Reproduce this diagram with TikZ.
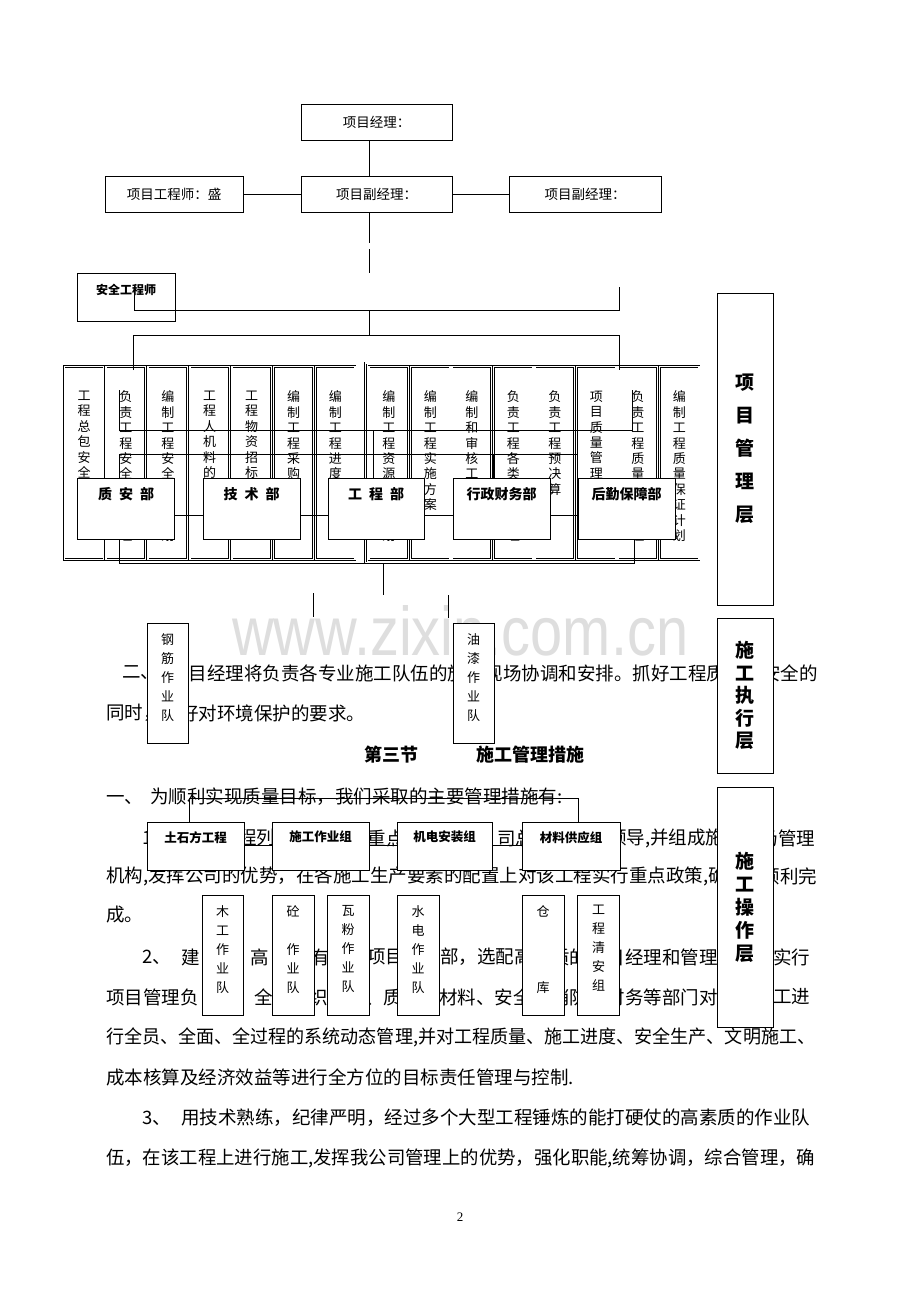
\documentclass[tikz,border=0pt]{standalone}
\usepackage{fontspec}
\usepackage{graphicx}
\setmainfont{Noto Sans CJK SC}
\newfontfamily\wmfont{Liberation Sans}
\newfontfamily\numfont{Liberation Serif}
\makeatletter
% one character per line
\def\vt#1{\expandafter\vt@a#1\@nil}
\def\vt@a#1#2\@nil{#1\ifx\relax#2\relax\expandafter\@gobble\else\expandafter\@firstofone\fi{\\\vt@a#2\@nil}}
\makeatother
\begin{document}
\begin{tikzpicture}[x=1pt,y=-1pt,
  line_style/.style={draw=black,line width=1pt},
  top_style/.style={draw=black,fill=white,line width=1pt,minimum height=36pt,inner sep=0pt,font=\fontsize{13.5}{16}\selectfont},
  safe_style/.style={draw=black,fill=white,line width=1pt,minimum width=98pt,minimum height=48pt,inner sep=0pt},
  safe_label/.style={anchor=north,yshift=-11pt,inner sep=0pt,font=\bfseries\fontsize{12}{14}\selectfont},
  dept_style/.style={draw=black,fill=white,line width=1pt,minimum width=97pt,minimum height=61pt,inner sep=0pt},
  dept_label/.style={anchor=north,yshift=-10pt,inner sep=0pt,font=\bfseries\fontsize{14}{16}\selectfont},
  row_style/.style={draw=black,fill=white,line width=1pt,minimum width=97pt,minimum height=48pt,inner sep=0pt},
  row_label/.style={anchor=north,yshift=-9.5pt,inner sep=0pt,font=\bfseries\fontsize{12.5}{14}\selectfont},
  col_style/.style={draw=black,double=white,double distance=1.4pt,line width=0.5pt,fill=white,minimum width=39.5pt,minimum height=193pt,inner sep=0pt},
  col_label/.style={anchor=north,yshift=-24.5pt,inner sep=0pt,align=center,font=\fontsize{13}{15.4}\selectfont},
  frame_style/.style={draw=black,double=white,double distance=1.4pt,line width=0.5pt},
  team_style/.style={draw=black,fill=white,line width=1pt,minimum width=41pt,minimum height=120pt,inner sep=0pt},
  team_label/.style={anchor=north,yshift=-10.5pt,inner sep=0pt,align=center,font=\fontsize{13}{19}\selectfont},
  layer_style/.style={draw=black,fill=white,line width=1pt,minimum width=56pt,inner sep=0pt,align=center},
  body_style/.style={anchor=west,inner sep=0pt,font=\fontsize{18.5}{22}\selectfont},
  head_style/.style={anchor=west,inner sep=0pt,font=\bfseries\fontsize{18}{22}\selectfont}]

\fill[white] (0,0) rectangle (920,1302);
\useasboundingbox (0,0) rectangle (920,1302);

% watermark
\node[anchor=base west,inner sep=0pt,text=black!13,font=\wmfont] (wm) at (232,655) {\resizebox{456pt}{50pt}{www.zixin.com.cn}};

% body text, the runs that are not covered by the boxes
\node[body_style] (t1a) at (122,673) {二、};
\node[body_style] (t1b) at (188.5,673) {目经理将负责各专业施工队伍的施};
\node[body_style] (t1c) at (484.5,673) {现场协调和安排。抓好工程质};
\node[body_style] (t1d) at (762,673) {安全的};
\node[body_style] (t2a) at (106,713) {同时，};
\node[body_style] (t2b) at (180,713) {好对环境保护的要求。};
\node[head_style] (h1) at (364,755) {第三节};
\node[head_style] (h2) at (476,755) {施工管理措施};
\node[body_style] (t4) at (106,797) {一、\hspace{7pt}为顺利实现质量目标，我们采取的主要管理措施有:};
\node[body_style] (t5a) at (142,838) {1};
\node[body_style] (t5b) at (238,838) {程列};
\node[body_style] (t5c) at (367.5,838) {重点};
\node[body_style] (t5d) at (497,838) {司总};
\node[body_style] (t5e) at (608,838) {领导,并组成施};
\node[body_style] (t5f) at (759.5,838) {场管理};
\node[body_style] (t6a) at (106,876) {机构,发挥公司的优势，在各施工生产要素的配置上对该工程实行重点政策,确};
\node[body_style] (t6b) at (761.5,876) {顺利完};
\node[body_style] (t7) at (106,915) {成。};
\node[body_style] (t8a) at (142,957) {2、};
\node[body_style] (t8b) at (181,957) {建};
\node[body_style] (t8c) at (250,957) {高};
\node[body_style] (t8d) at (311,957) {有};
\node[body_style] (t8e) at (367,957) {项目};
\node[body_style] (t8f) at (440,957) {部，选配高};
\node[body_style] (t8g) at (551,957) {质的};
\node[body_style] (t8h) at (606.5,957) {目经理和管理};
\node[body_style] (t8i) at (773,957) {实行};
\node[body_style] (t9a) at (106,997) {项目管理负};
\node[body_style] (t9b) at (254,997) {全};
\node[body_style] (t9c) at (309.5,997) {织};
\node[body_style] (t9d) at (365,997) {、质};
\node[body_style] (t9e) at (439,997) {材料、安全};
\node[body_style] (t9f) at (551,997) {消防};
\node[body_style] (t9g) at (606.5,997) {财务等部门对};
\node[body_style] (t9h) at (773,997) {工进};
\node[body_style] (t10) at (106,1037) {\resizebox{709pt}{\height}{行全员、全面、全过程的系统动态管理,并对工程质量、施工进度、安全生产、文明施工、}};
\node[body_style] (t11) at (106,1077) {成本核算及经济效益等进行全方位的目标责任管理与控制.};
\node[body_style] (t12) at (142,1118) {3、\hspace{10.5pt}用技术熟练，纪律严明，经过多个大型工程锤炼的能打硬仗的高素质的作业队};
\node[body_style] (t13) at (106,1158) {\resizebox{709pt}{\height}{伍，在该工程上进行施工,发挥我公司管理上的优势，强化职能,统筹协调，综合管理，确}};
\node[font=\numfont\fontsize{13}{15}\selectfont] (pg) at (460,1217) {2};

% top of the chart
\node[top_style,minimum width=151pt] (pm) at (376.5,122) {项目经理：};
\node[top_style,minimum width=151pt] (dpm1) at (376.5,194) {项目副经理：};
\node[top_style,minimum width=152pt] (dpm2) at (585,194) {项目副经理：};
\node[top_style,minimum width=138pt] (eng) at (174,194) {项目工程师：盛\hspace{19pt}};
\node[safe_style,label={[safe_label]north:安全工程师}] (safe) at (126,297) {};

% duty columns
\draw[frame_style] (61,363) rectangle (359,563);
\draw[frame_style] (365.5,363) rectangle (702,563);
\foreach \i/\txt in {0/工程总包安全~~~理,1/负责工程安全~~~理,2/编制工程安全~~~划,
    3/工程人机料的~~~配,4/工程物资招标,5/编制工程采购,6/编制工程进度}
  \node[col_style,label={[col_label]north:\vt{\txt}}] (cl\i) at ({84+41.9*\i},463) {};
\foreach \i/\txt in {0/编制工程资源~~~划,1/编制工程实施方案,2/编制和审核工,
    3/负责工程各类~~~理,4/负责工程预决算,5/项目质量管理~~~目,6/负责工程质量~~~理,7/编制工程质量保证计划}
  \node[col_style,label={[col_label]north:\vt{\txt}}] (cr\i) at ({388.75+41.5*\i},463) {};

% junction points
\coordinate (ja) at (369,243);
\coordinate (jb) at (369,249);
\coordinate (jc) at (369,273);
\coordinate (hm) at (369,310);
\coordinate (bm) at (369,335);

% connectors
\draw[line_style] (369,0 |- pm.south) -- (369,0 |- dpm1.north);
\draw[line_style] (eng.east) -- (dpm1.west);
\draw[line_style] (dpm1.east) -- (dpm2.west);
\draw[line_style] (369,0 |- dpm1.south) -- (ja);
\draw[line_style] (jb) -- (jc);
\draw[line_style] (134,293) -- (134,310) -- (619,310) -- (619,287);
\draw[line_style] (hm) -- (bm);
\draw[line_style] (133,370) -- (133,335) -- (619,335) -- (619,370);
\draw[line_style] (119,390) -- (119,430) -- (632,430) -- (632,390);
\node[dept_style,label={[dept_label]north:质\hspace{7pt}安\hspace{7pt}部}] (qs) at (126,508.5) {};
\node[dept_style,label={[dept_label]north:技\hspace{7pt}术\hspace{7pt}部}] (tech) at (251.5,508.5) {};
\node[dept_style,minimum width=96pt,label={[dept_label]north:工\hspace{7pt}程\hspace{7pt}部}] (proj) at (376,508.5) {};
\node[dept_style,label={[dept_label]north:行政财务部}] (fin) at (501.5,508.5) {};
\node[dept_style,label={[dept_label]north:后勤保障部}] (log) at (626.5,508.5) {};
\draw[line_style] (119,0 |- qs.north) -- (119,454) -- (577,454) -- (577,0 |- log.north);
\draw[line_style] (373,430) -- (373,0 |- proj.north);
\draw[line_style] (493,454) -- (493,0 |- fin.north);
\draw[line_style] (qs.east |- 0,515) -- (tech.west |- 0,515);
\draw[line_style] (tech.east |- 0,515) -- (proj.west |- 0,515);
\draw[line_style] (proj.east |- 0,515) -- (fin.west |- 0,515);
\draw[line_style] (fin.east |- 0,515) -- (log.west |- 0,515);
\draw[line_style] (119,0 |- qs.south) -- (119,563) -- (634,563) -- (634,0 |- log.south);
\draw[line_style] (383,563) -- (383,595);
\draw[line_style] (313,593) -- (313,617);
\draw[line_style] (448,595) -- (448,618);

% teams
\node[team_style,label={[team_label]north:\vt{钢筋作业队}}] (steel) at (167.5,683) {};
\node[team_style,label={[team_label]north:\vt{油漆作业队}}] (paint) at (473.5,683) {};

% groups
\node[row_style,label={[row_label]north:土石方工程}] (earth) at (195.5,846) {};
\node[row_style,label={[row_label]north:施工作业组}] (crew) at (320.5,846) {};
\node[row_style,minimum width=95pt,label={[row_label]north:机电安装组}] (mep) at (444.5,846) {};
\node[row_style,minimum width=98pt,label={[row_label]north:材料供应组}] (supply) at (571,846) {};
\draw[line_style] (189,0 |- earth.north) -- (189,798) -- (578,798) -- (578,0 |- supply.north);
\draw[line_style] (earth.east |- 0,845) -- (crew.west |- 0,845);
\draw[line_style] (crew.east |- 0,845) -- (mep.west |- 0,845);
\draw[line_style] (mep.east |- 0,845) -- (supply.west |- 0,845);

\node[team_style,label={[team_label]north:\vt{木工作业队}}] (wood) at (222.5,955) {};
\node[team_style,minimum width=42pt,label={[team_label]north:\vt{砼~作业队}}] (conc) at (293,955) {};
\node[team_style,minimum width=42pt,label={[team_label]north:\vt{瓦粉作业队}}] (tile) at (348,955) {};
\node[team_style,minimum width=42pt,label={[team_label]north:\vt{水电作业队}}] (elec) at (418,955) {};
\node[team_style,minimum width=42pt,label={[team_label]north:\vt{仓~~~库}}] (store) at (543,955) {};
\node[team_style,minimum width=42pt,label={[team_label]north:\vt{工程清安组}}] (clean) at (598.5,955) {};

% layers
\node[layer_style,minimum height=312pt,font=\bfseries\fontsize{19}{33}\selectfont] (lay1) at (745,449) {\vt{项目管理层}};
\node[layer_style,minimum height=155pt,font=\bfseries\fontsize{19}{22.5}\selectfont] (lay2) at (745,695.5) {\vt{施工执行层}};
\node[layer_style,minimum height=240pt,font=\bfseries\fontsize{19}{23}\selectfont] (lay3) at (745,907) {\vt{施工操作层}};
\end{tikzpicture}
\end{document}
